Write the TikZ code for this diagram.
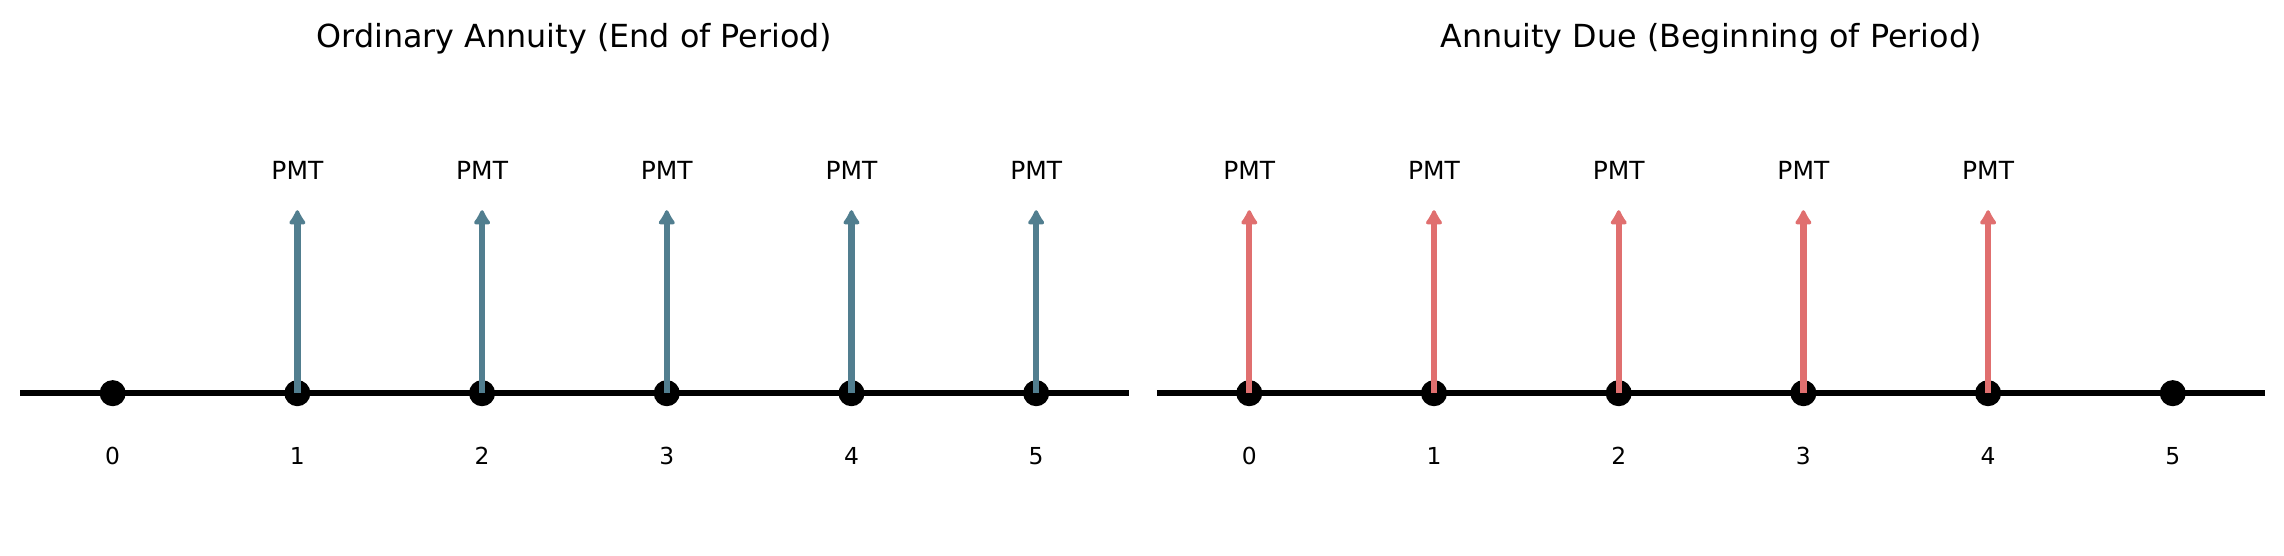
\documentclass[tikz,border=0pt]{standalone}
\usepackage{fontspec}
\setmainfont{DejaVu Sans}
\usepackage{xcolor}
\usetikzlibrary{arrows.meta}
\definecolor{ordblue}{HTML}{517E8F}
\definecolor{duered}{HTML}{E06F6F}

\begin{document}
\begin{tikzpicture}[x=2.86cm, y=2.833cm, every node/.style={inner sep=0pt},
  dot/.style={circle,fill=black,minimum size=11.5pt},
  axisline/.style={line width=2.4pt,black},
  pay/.style={-{Latex[length=7.5pt,width=9pt,round]},line width=2.8pt},
  pmtlabel/.style={anchor=base,font=\fontsize{11}{13}\selectfont},
  ticklabel/.style={anchor=base,font=\fontsize{10.3}{12}\selectfont},
  paneltitle/.style={anchor=base,font=\fontsize{14}{17}\selectfont}]
  \useasboundingbox (-0.610,-0.889) rectangle (11.756,2.149);

  % ordinary annuity: payments at the end of each period
  \coordinate (oL) at (-0.5,0);
  \coordinate (oR) at (5.5,0);
  \draw[axisline] (oL) -- (oR);
  \foreach \i in {0,...,5} {
    \node[dot] (o\i) at (\i,0) {};
    \node[ticklabel] (on\i) at (\i,-0.392) {\i};
  }
  \foreach \i in {1,...,5} {
    \coordinate (ot\i) at (\i,1);
    \draw[pay,ordblue] (o\i.center) -- (ot\i);
    \node[pmtlabel] (op\i) at (\i,1.169) {PMT};
  }
  \node[paneltitle] (otitle) at (2.5,1.888) {Ordinary Annuity (End of Period)};

  % annuity due: payments at the beginning of each period
  \begin{scope}[xshift=17.60cm]
    \coordinate (dL) at (-0.5,0);
    \coordinate (dR) at (5.5,0);
    \draw[axisline] (dL) -- (dR);
    \foreach \i in {0,...,5} {
      \node[dot] (d\i) at (\i,0) {};
      \node[ticklabel] (dn\i) at (\i,-0.392) {\i};
    }
    \foreach \i in {0,...,4} {
      \coordinate (dt\i) at (\i,1);
      \draw[pay,duered] (d\i.center) -- (dt\i);
      \node[pmtlabel] (dp\i) at (\i,1.169) {PMT};
    }
    \node[paneltitle] (dtitle) at (2.5,1.888) {Annuity Due (Beginning of Period)};
  \end{scope}
\end{tikzpicture}
\end{document}
